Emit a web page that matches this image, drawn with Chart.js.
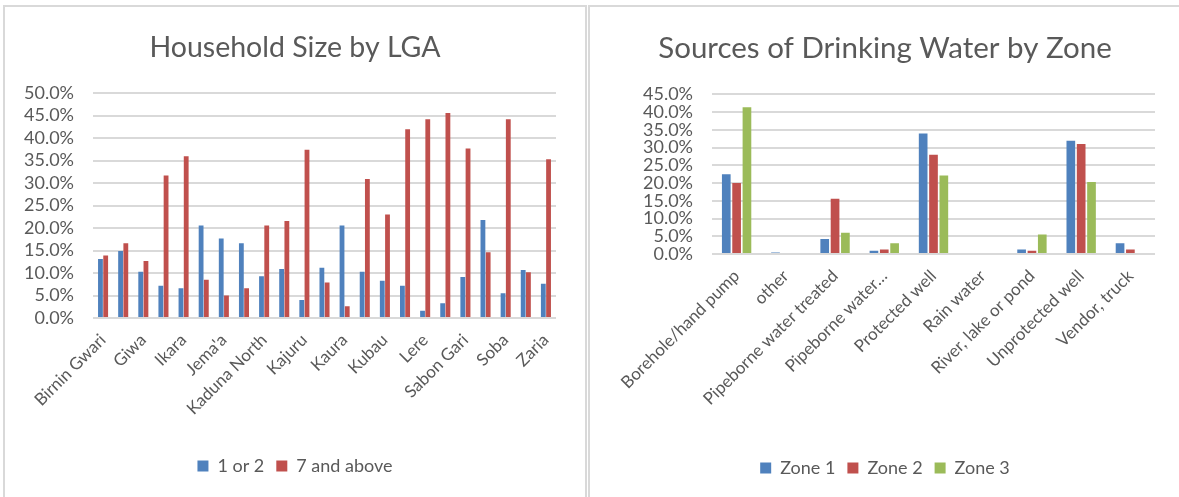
<!DOCTYPE html>
<html lang="en">
<head>
    <meta charset="UTF-8">
    <title>Household Size and Drinking Water Sources</title>
    <script src="https://cdn.jsdelivr.net/npm/chart.js@4.4.1/dist/chart.umd.min.js"></script>
    <style>
        body {
            margin: 0;
            background: #fff;
            font-family: Lato, sans-serif;
            overflow: hidden;
        }
        .panel {
            position: absolute;
            top: 5px;
            border: 2px solid #d9d9d9;
            background: #fff;
        }
        #leftPanel { left: 3px; width: 580px; height: 510px; }
        #rightPanel { left: 588px; width: 600px; height: 510px; }
        .chart-box { position: relative; height: 490px; }
        #leftPanel .chart-box { width: 580px; }
        #rightPanel .chart-box { width: 590px; }
    </style>
</head>
<body>
    <div class="panel" id="leftPanel"><div class="chart-box"><canvas id="sizeChart"></canvas></div></div>
    <div class="panel" id="rightPanel"><div class="chart-box"><canvas id="waterChart"></canvas></div></div>

    <script>
        // Household size by LGA (percent of households)
        const lgaLabels = ['Birnin Gwari', 'Chikun', 'Giwa', 'Igabi', 'Ikara', 'Jaba', "Jema'a", 'Kachia',
            'Kaduna North', 'Kaduna South', 'Kajuru', 'Kargako', 'Kaura', 'Kauru', 'Kubau', 'Kudan',
            'Lere', 'Makarfi', 'Sabon Gari', 'Sanga', 'Soba', 'Zangon Kataf', 'Zaria'];
        const oneOrTwo = [13.1, 14.9, 10.3, 7.2, 6.6, 20.6, 17.7, 16.6, 9.3, 10.9, 4.0, 11.2,
            20.6, 10.3, 8.3, 7.2, 1.6, 3.3, 9.1, 21.8, 5.5, 10.7, 7.6];
        const sevenAbove = [13.9, 16.6, 12.7, 31.7, 36.0, 8.5, 5.0, 6.6, 20.6, 21.6, 37.4, 7.9,
            2.6, 30.9, 23.0, 42.0, 44.2, 45.6, 37.7, 14.6, 44.2, 10.2, 35.3];

        // Sources of drinking water by zone (percent)
        const sources = ['Borehole/hand pump', 'other', 'Pipeborne water treated', 'Pipeborne water\u2026',
            'Protected well', 'Rain water', 'River, lake or pond', 'Unprotected well', 'Vendor, truck'];
        const zone1 = [22.5, 0.4, 4.2, 0.9, 34.0, 0, 1.3, 31.9, 3.0];
        const zone2 = [20.0, 0, 15.6, 1.3, 28.0, 0, 0.9, 31.0, 1.3];
        const zone3 = [41.4, 0, 6.0, 3.0, 22.1, 0, 5.5, 20.3, 0];

        const BLUE = '#4f81bd', RED = '#c0504d', GREEN = '#9bbb59';
        const TEXT = '#595959', GRID = '#d9d9d9';

        Chart.defaults.font.family = 'Lato, sans-serif';
        Chart.defaults.color = TEXT;

        function pct(v) {
            return v.toFixed(1) + '%';
        }

        // equal side padding keeps title and legend centred on the panel;
        // an empty right-hand axis supplies the extra gap after the plot
        function baseOptions(title, yMax, bottom, xHeight, yWidth, rightGap, titleSize) {
            return {
                responsive: true,
                maintainAspectRatio: false,
                animation: false,
                layout: { padding: { left: 10, right: 10, top: 0, bottom: bottom } },
                plugins: {
                    title: {
                        display: true,
                        text: title,
                        color: TEXT,
                        font: { size: titleSize, weight: 'normal' },
                        padding: { top: 24, bottom: 28 }
                    },
                    legend: {
                        position: 'bottom',
                        labels: {
                            boxWidth: 11,
                            boxHeight: 11,
                            padding: 12,
                            color: TEXT,
                            font: { size: 18 }
                        }
                    },
                    tooltip: { enabled: false }
                },
                scales: {
                    x: {
                        grid: { display: false },
                        border: { display: false },
                        afterFit: s => { s.height = xHeight; },
                        ticks: {
                            autoSkip: false,
                            minRotation: 45,
                            maxRotation: 45,
                            padding: 4,
                            color: TEXT,
                            font: { size: 17 }
                        }
                    },
                    y: {
                        min: 0,
                        max: yMax,
                        border: { display: false },
                        grid: { color: GRID, lineWidth: 2, drawTicks: false },
                        afterFit: s => { s.width = yWidth; },
                        ticks: {
                            stepSize: 5,
                            autoSkip: false,
                            padding: 19,
                            color: TEXT,
                            font: { size: 18 },
                            callback: v => pct(v)
                        }
                    },
                    gap: {
                        type: 'linear',
                        position: 'right',
                        grid: { display: false },
                        border: { display: false },
                        ticks: { display: false },
                        afterFit: s => { s.width = rightGap; }
                    }
                }
            };
        }

        const sizeOpts = baseOptions('Household Size by LGA', 50, 12, 127, 78, 19, 28.5);
        // only every second LGA name fits under the axis
        sizeOpts.scales.x.ticks.callback = function (value, index) {
            return index % 2 === 0 ? this.getLabelForValue(value) : '';
        };

        new Chart(document.getElementById('sizeChart'), {
            type: 'bar',
            data: {
                labels: lgaLabels,
                datasets: [
                    { label: '1 or 2', data: oneOrTwo, backgroundColor: BLUE,
                      categoryPercentage: 0.52, barPercentage: 0.92 },
                    { label: '7 and above', data: sevenAbove, backgroundColor: RED,
                      categoryPercentage: 0.52, barPercentage: 0.92 }
                ]
            },
            options: sizeOpts
        });

        const waterOpts = baseOptions('Sources of Drinking Water by Zone', 45, 10, 193, 112, 15, 29.5);

        new Chart(document.getElementById('waterChart'), {
            type: 'bar',
            data: {
                labels: sources,
                datasets: [
                    { label: 'Zone 1', data: zone1, backgroundColor: BLUE,
                      categoryPercentage: 0.63, barPercentage: 0.84 },
                    { label: 'Zone 2', data: zone2, backgroundColor: RED,
                      categoryPercentage: 0.63, barPercentage: 0.84 },
                    { label: 'Zone 3', data: zone3, backgroundColor: GREEN,
                      categoryPercentage: 0.63, barPercentage: 0.84 }
                ]
            },
            options: waterOpts
        });
    </script>
</body>
</html>
